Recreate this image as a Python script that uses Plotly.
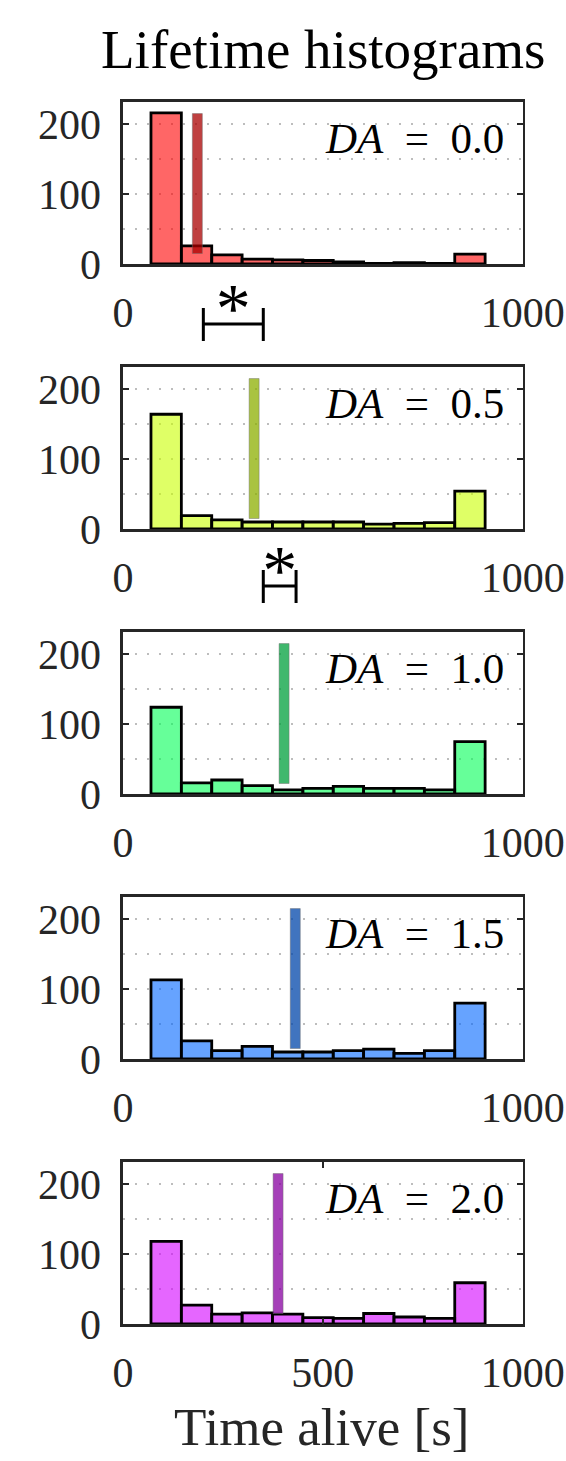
import plotly.graph_objects as go

# ---- data ----
bin_start = 70
bin_width = 76
n_bins = 11
bin_centers = [bin_start + bin_width * (i + 0.5) for i in range(n_bins)]

counts_da00 = [216, 26, 13, 7, 6, 5, 3, 1, 2, 1, 14]
counts_da05 = [164, 19, 13, 10, 10, 10, 10, 7, 8, 9, 54]
counts_da10 = [124, 16, 20, 12, 6, 8, 11, 8, 8, 6, 75]
counts_da15 = [113, 26, 12, 18, 10, 10, 12, 14, 8, 12, 80]
counts_da20 = [118, 27, 14, 16, 14, 9, 8, 15, 10, 8, 59]

mean_pos = [186, 328, 403, 431, 388]
mean_low = [15, 15, 15, 15, 15]
mean_high = [215, 215, 215, 215, 215]

labels = ["0.0", "0.5", "1.0", "1.5", "2.0"]
all_counts = [counts_da00, counts_da05, counts_da10, counts_da15, counts_da20]

fill_colors = ["rgba(255,0,0,0.6)", "rgba(202,255,0,0.6)", "rgba(0,255,85,0.6)",
               "rgba(0,102,255,0.6)", "rgba(212,0,255,0.6)"]
mean_colors = ["rgba(170,0,0,0.75)", "rgba(140,175,0,0.75)", "rgba(0,160,60,0.75)",
               "rgba(0,70,170,0.75)", "rgba(135,0,160,0.75)"]

# significance brackets (x-ends in seconds)
bracket1_x = [201, 351]
bracket2_x = [351, 433]

# ---- layout geometry (pixels) ----
W, H = 566, 1461
X0, X1 = 123, 522.7
TOP0, PH, STEP = 101.7, 162.3, 265
YMAX = 232
FONT = "Liberation Serif"
AX = "#262626"
GRID = "#bdbdbd"

def py(p):
    return 1 - p / H

fig = go.Figure()
layout = dict(template="none", width=W, height=H, margin=dict(l=0, r=0, t=0, b=0, autoexpand=False),
              paper_bgcolor="white", plot_bgcolor="white",
              showlegend=False, barmode="overlay",
              font=dict(family=FONT, color=AX))

for i in range(5):
    k = "" if i == 0 else str(i + 1)
    xa, ya = "x" + k, "y" + k
    top = TOP0 + STEP * i
    bot = top + PH
    fig.add_trace(go.Bar(x=bin_centers, y=all_counts[i], width=bin_width,
                         marker=dict(color=fill_colors[i], line=dict(color="black", width=2.8)),
                         xaxis=xa, yaxis=ya, hoverinfo="skip"))
    fig.add_trace(go.Bar(x=[mean_pos[i]], y=[mean_high[i] - mean_low[i]], base=[mean_low[i]],
                         width=25,
                         marker=dict(color=mean_colors[i], line=dict(color="rgba(110,110,110,0.45)", width=1)),
                         xaxis=xa, yaxis=ya, hoverinfo="skip"))
    xt = [0, 500, 1000] if i == 4 else [0, 1000]
    layout["xaxis" + k] = dict(domain=[X0 / W, X1 / W], anchor=ya, range=[0, 1000],
                               tickvals=xt, ticktext=[str(v) for v in xt],
                               ticks="inside", ticklen=6, tickwidth=2.5, tickcolor=AX,
                               showline=True, linewidth=2.6, linecolor=AX, mirror="ticks",
                               showgrid=False, zeroline=False, automargin=False,
                               ticklabeloverflow="allow",
                               tickfont=dict(family=FONT, size=42, color=AX),
                               ticklabelstandoff=10)
    layout["yaxis" + k] = dict(domain=[py(bot), py(top)], anchor=xa, range=[0, YMAX],
                               tickvals=[0, 100, 200], ticktext=["0", "100", "200"],
                               ticks="inside", ticklen=6, tickwidth=2.5, tickcolor=AX,
                               showline=True, linewidth=2.6, linecolor=AX, mirror="ticks",
                               showgrid=True, gridcolor=GRID, gridwidth=2, griddash="2px,10px",
                               minor=dict(tickvals=[50, 150], showgrid=True, gridcolor=GRID,
                                          gridwidth=2, griddash="2px,10px", ticks=""),
                               zeroline=False, automargin=False,
                               ticklabeloverflow="allow",
                               tickfont=dict(family=FONT, size=42, color=AX),
                               ticklabelstandoff=11)
    fig.add_annotation(x=958, y=180, xref=xa, yref=ya, xanchor="right", yanchor="middle",
                       text="<i>DA</i>&nbsp;&nbsp;=&nbsp;&nbsp;" + labels[i], showarrow=False,
                       font=dict(family=FONT, size=43, color="black"))

# bracket overlay axes (y = pixel offset below the panel bottom)
for j, (bx, pidx) in enumerate([(bracket1_x, 0), (bracket2_x, 1)]):
    k = str(6 + j)
    bot = TOP0 + STEP * pidx + PH
    gap_top = bot
    gap_bot = bot + (STEP - PH)
    line_y = 60 if j == 0 else 57
    cap_lo = line_y - 16
    cap_hi = line_y + 17
    fig.add_trace(go.Scatter(
        x=[bx[0], bx[0], None, bx[0], bx[1], None, bx[1], bx[1]],
        y=[cap_lo, cap_hi, None, line_y, line_y, None, cap_lo, cap_hi],
        mode="lines", line=dict(color="black", width=3),
        xaxis="x" + k, yaxis="y" + k, hoverinfo="skip"))
    fig.add_trace(go.Scatter(
        x=[(bx[0] + bx[1]) / 2], y=[line_y - 10], mode="text", text=["*"],
        textposition="middle center", textfont=dict(family=FONT, size=70, color="black"),
        xaxis="x" + k, yaxis="y" + k, hoverinfo="skip", cliponaxis=False))
    layout["xaxis" + k] = dict(domain=[X0 / W, X1 / W], anchor="y" + k, range=[0, 1000], visible=False)
    layout["yaxis" + k] = dict(domain=[py(gap_bot), py(gap_top)], anchor="x" + k,
                               range=[STEP - PH, 0], visible=False)

fig.update_layout(**layout)

fig.add_annotation(x=323.5 / W, y=py(49), xref="paper", yref="paper", xanchor="center",
                   yanchor="middle", text="Lifetime histograms", showarrow=False,
                   font=dict(family=FONT, size=55, color="black"))
fig.add_annotation(x=321 / W, y=py(1427), xref="paper", yref="paper", xanchor="center",
                   yanchor="middle", text="Time alive [s]", showarrow=False,
                   font=dict(family=FONT, size=53, color=AX))

fig.write_html("out.html", config={"displayModeBar": False, "staticPlot": True},
               post_script="document.body.style.margin='0';document.body.style.overflow='hidden';")
